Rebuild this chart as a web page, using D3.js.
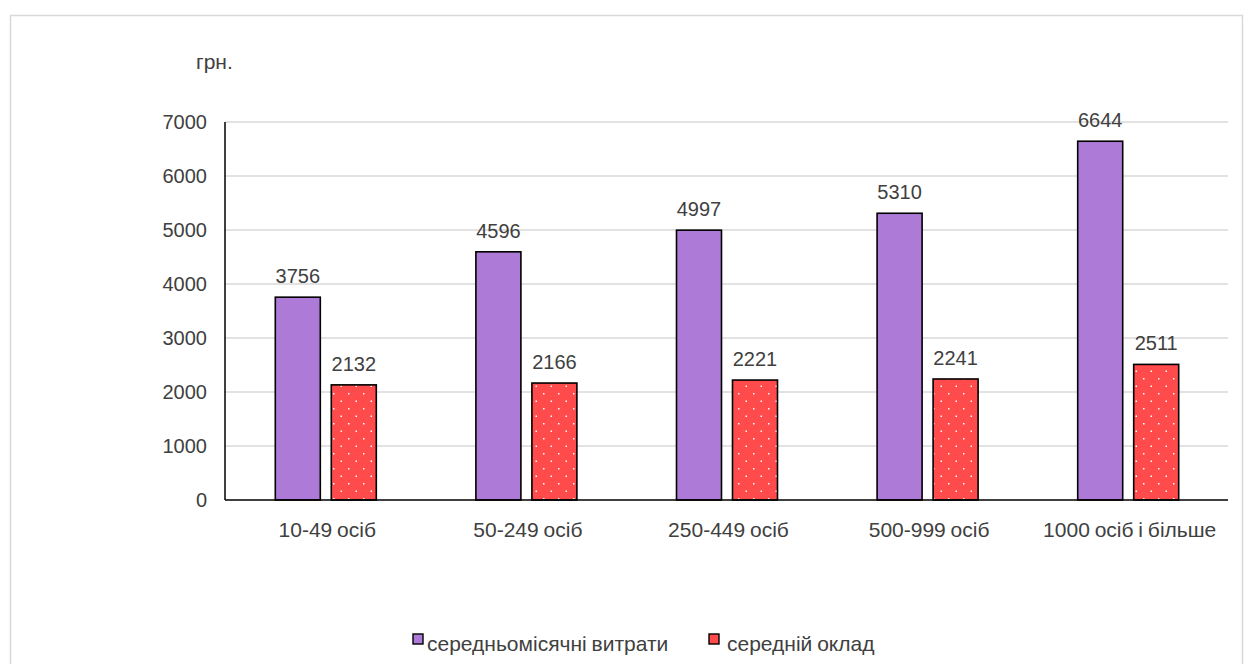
<!DOCTYPE html>
<html><head><meta charset="utf-8">
<script src="https://cdn.jsdelivr.net/npm/d3@7"></script>
<style>body{margin:0;background:#fff;font-family:"Liberation Sans",Arial,sans-serif;}</style>
</head><body><svg id="c" width="1253" height="664"></svg>
<script>
const categories = ["10-49 осіб","50-249 осіб","250-449 осіб","500-999 осіб","1000 осіб і більше"];
const seriesNames = ["середньомісячні витрати","середній оклад"];
const spending = [3756,4596,4997,5310,6644];
const salary = [2132,2166,2221,2241,2511];
const yTicks = [0,1000,2000,3000,4000,5000,6000,7000];
const unitLabel = "грн.";

const svg = d3.select("#c");
const textColor = "#404040";
const colors = ["#ad7bd7","#ff4b4b"];
const fs = 20, fsText = 21;

const defs = svg.append("defs");
const pat = defs.append("pattern").attr("id","dots").attr("patternUnits","userSpaceOnUse")
  .attr("width",15).attr("height",15);
pat.append("rect").attr("width",15).attr("height",15).attr("fill",colors[1]);
pat.append("rect").attr("x",3).attr("y",3).attr("width",1.5).attr("height",1.5).attr("fill","#fff");
pat.append("rect").attr("x",10.5).attr("y",10.5).attr("width",1.5).attr("height",1.5).attr("fill","#fff");

// outer frame
svg.append("rect").attr("x",10.5).attr("y",15.5).attr("width",1232).attr("height",660)
  .attr("fill","none").attr("stroke","#d9d9d9").attr("stroke-width",1.5);

const pLeft=225,pRight=1228,pTop=122,pBottom=500;
const x = d3.scaleBand().domain(categories).range([pLeft,pRight]);
const y = d3.scaleLinear().domain([0,7000]).range([pBottom,pTop]);

// gridlines
svg.append("g").selectAll("line").data(yTicks.filter(d=>d>0)).join("line")
  .attr("x1",pLeft).attr("x2",pRight).attr("y1",d=>y(d)).attr("y2",d=>y(d))
  .attr("stroke","#d9d9d9").attr("stroke-width",1.3);

// y tick labels
svg.append("g").selectAll("text").data(yTicks).join("text")
  .attr("x",207).attr("y",d=>y(d)+7).attr("text-anchor","end")
  .attr("font-size",fs).attr("fill",textColor).text(d=>d);

svg.append("text").attr("x",196).attr("y",69).attr("font-size",fsText).attr("fill",textColor).text(unitLabel);

const bw = 45, gap = 12;
const series = [spending, salary];
series.forEach((vals,si)=>{
  const g = svg.append("g");
  g.selectAll("rect").data(vals).join("rect")
    .attr("x",(d,i)=>x(categories[i])+x.bandwidth()/2 + (si===0 ? -bw-gap/2+1 : gap/2))
    .attr("y",d=>y(d)).attr("width",bw).attr("height",d=>pBottom-y(d))
    .attr("fill",si===0?colors[0]:"url(#dots)")
    .attr("stroke","#000").attr("stroke-width",1.6);
  g.selectAll("text").data(vals).join("text")
    .attr("x",(d,i)=>x(categories[i])+x.bandwidth()/2 + (si===0 ? -bw/2-gap/2+1 : gap/2+bw/2))
    .attr("y",d=>y(d)-14).attr("text-anchor","middle")
    .attr("font-size",fs).attr("fill",textColor).text(d=>d);
});

// axes
svg.append("line").attr("x1",pLeft).attr("x2",pLeft).attr("y1",pTop).attr("y2",pBottom).attr("stroke","#000").attr("stroke-width",1.5);
svg.append("line").attr("x1",pLeft).attr("x2",pRight).attr("y1",pBottom).attr("y2",pBottom).attr("stroke","#000").attr("stroke-width",1.5);

// category labels
svg.append("g").selectAll("text").data(categories).join("text")
  .attr("x",d=>x(d)+x.bandwidth()/2+2).attr("y",537).attr("text-anchor","middle")
  .attr("font-size",fsText).attr("fill",textColor).attr("word-spacing","-1").text(d=>d);

// legend
const legX = [413, 709];
const legTX = [427, 727];
seriesNames.forEach((n,i)=>{
  svg.append("rect").attr("x",legX[i]).attr("y",634).attr("width",10).attr("height",10)
    .attr("fill",i===0?colors[0]:colors[1]).attr("stroke","#000").attr("stroke-width",1.4);
  svg.append("text").attr("x",legTX[i]).attr("y",651).attr("font-size",fsText).attr("fill",textColor)
    .attr("word-spacing","-1").text(n);
});
</script></body></html>
